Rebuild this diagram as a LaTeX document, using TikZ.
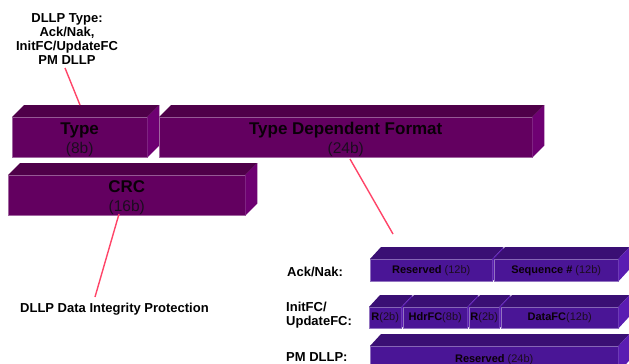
\documentclass[tikz,border=0pt]{standalone}
\usepackage{fontspec}
\setmainfont{Liberation Sans}
\definecolor{ptop}{HTML}{4F0049}
\definecolor{pfront}{HTML}{630060}
\definecolor{pside}{HTML}{6E0072}
\definecolor{vtop}{HTML}{3A0F74}
\definecolor{vfront}{HTML}{4A1596}
\definecolor{vside}{HTML}{5A1CB2}
\definecolor{pinkline}{HTML}{FF4468}
\definecolor{boldtext}{HTML}{0A0008}
\definecolor{subtext}{HTML}{1C0C20}
\tikzset{
  frontface/.style={fill=#1front, draw=#1front!60!white, line width=0.4pt, inner sep=0pt, align=center, text=boldtext, rectangle},
  connector/.style={draw=pinkline, line width=1.4pt},
  lbl/.style={font=\bfseries\fontsize{13}{14}\selectfont, inner sep=0pt, text=black},
  uptitle/.style={font=\bfseries\fontsize{17}{19}\selectfont, inner sep=0pt, text=boldtext, anchor=base},
  upbits/.style={font=\fontsize{15.5}{17}\selectfont, inner sep=0pt, text=subtext, anchor=base},
}
% #1 name, #2 x1, #3 y1, #4 x2, #5 y2, #6 scheme, #7 depth, #8 text
\newcommand\slab[8]{%
  \node[frontface=#6, minimum width={#4-#2}, minimum height={#5-#3}, anchor=north west] (#1) at (#2,#3) {#8};
  \fill[#6top] (#1.north west) -- ++(#7,-12) -- ([shift={(#7,-12)}]#1.north east) -- (#1.north east) -- cycle;
  \fill[#6side] (#1.north east) -- ++(#7,-12) -- ([shift={(#7,-12)}]#1.south east) -- (#1.south east) -- cycle;
}
% upper box: #1 name, #2..#5 coords, #6 title, #7 bits
\newcommand\upslab[7]{%
  \slab{#1}{#2}{#3}{#4}{#5}{p}{12}{}
  \node[uptitle] (#1-title) at ([yshift=-17pt]#1.north) {#6};
  \node[upbits] (#1-bits) at ([yshift=-36.5pt]#1.north) {#7};
}
\newcommand\lowtext[3]{\fontsize{11}{13}\selectfont\textbf{#1}#2{\color{subtext}#3}}
\begin{document}
\begin{tikzpicture}[x=1pt,y=-1pt]
\useasboundingbox (0,0) rectangle (629,364);
% upper boxes
\upslab{type}{12}{117}{147}{157}{Type}{(8b)}
\upslab{tdf}{159}{117}{532}{157}{Type Dependent Format}{(24b)}
\upslab{crc}{8}{175}{245}{215}{CRC}{(16b)}
% lower boxes
\slab{res}{370}{259}{492}{281}{v}{11}{\lowtext{Reserved}{ }{(12b)}}
\slab{seq}{494}{259}{618}{281}{v}{11}{\lowtext{Sequence \#}{ }{(12b)}}
\slab{ra}{369}{307}{401}{328}{v}{11}{\lowtext{R}{}{(2b)}}
\slab{hdr}{403}{307}{467}{328}{v}{11}{\lowtext{HdrFC}{}{(8b)}}
\slab{rb}{469}{307}{499}{328}{v}{11}{\lowtext{R}{}{(2b)}}
\slab{data}{501}{307}{618}{328}{v}{11}{\lowtext{DataFC}{}{(12b)}}
\slab{pm}{370}{346}{618}{372}{v}{11}{\lowtext{Reserved}{ }{(24b)}}
% labels
\node[lbl, align=center] (dllptype) at (67,39.5) {DLLP Type:\\Ack/Nak,\\InitFC/UpdateFC\\PM DLLP};
\node[lbl, anchor=west] (integ) at (20,309) {DLLP Data Integrity Protection};
\node[lbl, anchor=west] (acknak) at (287,272) {Ack/Nak:};
\node[lbl, anchor=west, align=left] (initfc) at (286,315) {InitFC/\\UpdateFC:};
\node[lbl, anchor=west] (pmdllp) at (286,357) {PM DLLP:};
% connector ends
\coordinate (c1a) at (65,68);
\coordinate (c1b) at (80,105);
\coordinate (c2a) at (350,159);
\coordinate (c2b) at (393,234);
\coordinate (c3a) at (119,214);
\coordinate (c3b) at (95,297);
\draw[connector] (c1a) -- (c1b);
\draw[connector] (c2a) -- (c2b);
\draw[connector] (c3a) -- (c3b);
\end{tikzpicture}
\end{document}
